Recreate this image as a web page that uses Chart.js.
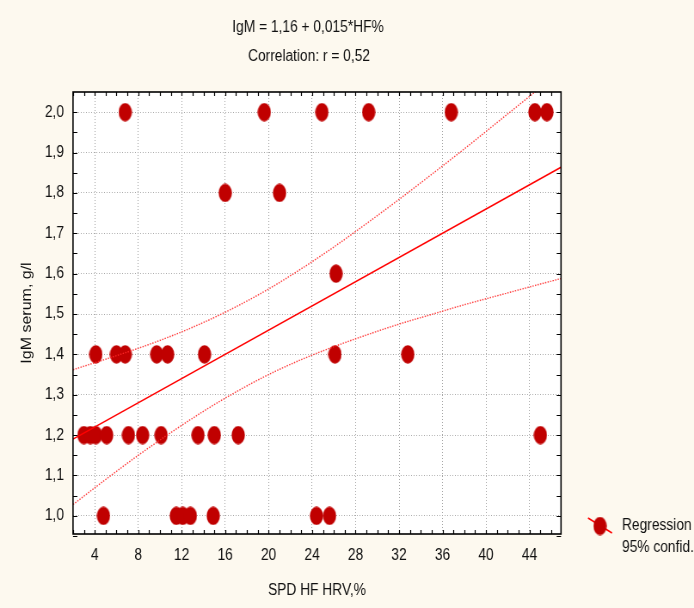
<!DOCTYPE html>
<html>
<head>
<meta charset="utf-8">
<script src="https://cdn.jsdelivr.net/npm/chart.js@4.4.1/dist/chart.umd.min.js"></script>
<style>
  html, body { margin: 0; padding: 0; background: #fdf9ef; overflow: hidden; }
  /* the whole figure is drawn wide and squeezed horizontally, as in the original export */
  #wrap { width: 807px; height: 608px; transform: scaleX(0.86); transform-origin: 0 0; }
</style>
</head>
<body>
<div id="wrap"><canvas id="igm" width="807" height="608"></canvas></div>
<script>
// scatter of serum IgM against HF share of the HRV spectrum
var hfPercent = [
    6.8, 19.6, 24.9, 29.2, 36.8, 44.5, 45.6,
    16.0, 21.0,
    26.2,
    4.1, 6.0, 6.8, 9.7, 10.7, 14.1, 26.1, 32.8,
    3.0, 3.6, 4.1, 5.1, 7.1, 8.4, 10.1, 13.5, 15.0, 17.2, 45.0,
    4.8, 11.5, 12.1, 12.8, 14.9, 24.4, 25.6
];
var igmSerum = [
    2.0, 2.0, 2.0, 2.0, 2.0, 2.0, 2.0,
    1.8, 1.8,
    1.6,
    1.4, 1.4, 1.4, 1.4, 1.4, 1.4, 1.4, 1.4,
    1.2, 1.2, 1.2, 1.2, 1.2, 1.2, 1.2, 1.2, 1.2, 1.2, 1.2,
    1.0, 1.0, 1.0, 1.0, 1.0, 1.0, 1.0
];

// fitted line IgM = a + b*HF%
var regIntercept = 1.16;
var regSlope = 0.015;
var correlation = 0.52;

// 95% confidence limits of the fit
var bandX = [2, 5, 8, 11, 14, 17, 20, 23, 26, 29, 32, 35, 38, 41, 44, 46.9];
var bandUpper = [1.362, 1.388, 1.415, 1.445, 1.479, 1.518, 1.562, 1.612, 1.666, 1.724, 1.784, 1.846, 1.909, 1.974, 2.039, 2.102];
var bandLower = [1.028, 1.090, 1.150, 1.206, 1.259, 1.307, 1.350, 1.387, 1.419, 1.448, 1.475, 1.499, 1.523, 1.545, 1.567, 1.588];

var xMin = 2, xMax = 46.9;
var yMin = 0.955, yMax = 2.05;
var xTickValues = [4, 8, 12, 16, 20, 24, 28, 32, 36, 40, 44];
var yTickValues = [1.0, 1.1, 1.2, 1.3, 1.4, 1.5, 1.6, 1.7, 1.8, 1.9, 2.0];
var yTickLabels = ['1,0', '1,1', '1,2', '1,3', '1,4', '1,5', '1,6', '1,7', '1,8', '1,9', '2,0'];

var SX = 0.86;          // horizontal squeeze applied to #wrap
var FONT = "'Liberation Sans', Arial, sans-serif";
var DOT = '#c00000';

// page x position -> canvas x position
function cx(x) { return x / SX; }

function commaNum(v, digits) {
    return v.toFixed(digits).replace('.', ',');
}

// oval marker used for the observations
function makeOval(w, h, color) {
    var c = document.createElement('canvas');
    c.width = w;
    c.height = h;
    var g = c.getContext('2d');
    g.fillStyle = color;
    g.beginPath();
    g.ellipse(w / 2, h / 2, w / 2 - 0.3, h / 2 - 0.3, 0, 0, Math.PI * 2);
    g.fill();
    return c;
}
var oval = makeOval(16, 19, DOT);

function pairs(xs, ys) {
    var out = [];
    for (var i = 0; i < xs.length; i++) out.push({ x: xs[i], y: ys[i] });
    return out;
}

var regLine = [
    { x: xMin, y: regIntercept + regSlope * xMin },
    { x: xMax, y: regIntercept + regSlope * xMax }
];

// background, frame, inner tick marks, headings and legend
var decor = {
    id: 'decor',
    beforeDraw: function (chart) {
        var ctx = chart.ctx, a = chart.chartArea;
        ctx.save();
        ctx.fillStyle = '#fdf9ef';
        ctx.fillRect(0, 0, chart.width, chart.height);
        ctx.fillStyle = '#ffffff';
        ctx.fillRect(a.left, a.top, a.right - a.left, a.bottom - a.top);
        ctx.restore();
    },
    afterDraw: function (chart) {
        var ctx = chart.ctx, a = chart.chartArea;
        var xs = chart.scales.x, ys = chart.scales.y;
        ctx.save();

        // minor ticks pointing into the plot
        ctx.strokeStyle = '#000';
        ctx.lineWidth = 1.2;
        ctx.beginPath();
        for (var v = Math.ceil(xMin); v <= xMax; v++) {
            var px = Math.round(xs.getPixelForValue(v)) + 0.5;
            ctx.moveTo(px, a.bottom); ctx.lineTo(px, a.bottom - 4);
            ctx.moveTo(px, a.top); ctx.lineTo(px, a.top + 4);
        }
        for (var k = 0; k <= 21; k++) {
            var yv = 1.0 + (k - 1) * 0.05;
            var py = Math.round(ys.getPixelForValue(yv)) + 0.5;
            ctx.moveTo(a.left, py); ctx.lineTo(a.left + 5, py);
            ctx.moveTo(a.right, py); ctx.lineTo(a.right - 5, py);
        }
        ctx.stroke();

        // frame
        ctx.lineWidth = 1.6;
        ctx.strokeRect(a.left, a.top, a.right - a.left, a.bottom - a.top);

        // heading
        ctx.fillStyle = '#111';
        ctx.font = '16px ' + FONT;
        ctx.textAlign = 'center';
        ctx.textBaseline = 'middle';
        ctx.fillText('IgM = ' + commaNum(regIntercept, 2) + ' + ' + commaNum(regSlope, 3) + '*HF%', cx(308), 28);
        ctx.fillText('Correlation: r = ' + commaNum(correlation, 2), cx(309), 57);

        // legend
        ctx.strokeStyle = '#ff0000';
        ctx.lineWidth = 1.5;
        ctx.beginPath();
        ctx.moveTo(cx(588), 518);
        ctx.lineTo(cx(612), 533);
        ctx.stroke();
        ctx.drawImage(oval, cx(600) - 8, 526 - 9.5);
        ctx.fillStyle = '#111';
        ctx.textAlign = 'left';
        ctx.fillText('Regression', cx(622), 526);
        ctx.fillText('95% confid.', cx(622), 548);
        ctx.restore();
    }
};

var bandStyle = {
    showLine: true,
    pointRadius: 0,
    borderColor: 'rgba(255, 40, 40, 0.9)',
    borderWidth: 1.4,
    borderDash: [1.5, 1.5],
    cubicInterpolationMode: 'monotone',
    fill: false,
    order: 0
};

new Chart(document.getElementById('igm'), {
    type: 'scatter',
    data: {
        datasets: [
            Object.assign({ label: '95% confid.', data: pairs(bandX, bandUpper) }, bandStyle),
            Object.assign({ label: '95% confid. low', data: pairs(bandX, bandLower) }, bandStyle),
            {
                label: 'Regression',
                data: regLine,
                showLine: true,
                pointRadius: 0,
                borderColor: '#ff0000',
                borderWidth: 1.6,
                order: 0
            },
            {
                label: 'IgM',
                data: pairs(hfPercent, igmSerum),
                pointStyle: oval,
                pointRadius: 8,
                pointHoverRadius: 8,
                backgroundColor: DOT,
                borderColor: DOT,
                order: 1
            }
        ]
    },
    options: {
        responsive: false,
        animation: false,
        events: [],
        layout: { padding: { top: 92, right: 807 - cx(561), bottom: 0, left: 0 } },
        scales: {
            x: {
                type: 'linear',
                min: xMin,
                max: xMax,
                afterBuildTicks: function (scale) {
                    scale.ticks = xTickValues.map(function (v) { return { value: v }; });
                },
                afterFit: function (scale) { scale.height = 74; },
                grid: { color: '#a8a8a8', lineWidth: 1, drawTicks: false },
                border: { display: false, dash: [1, 2] },
                ticks: {
                    padding: 12,
                    color: '#111',
                    font: { family: FONT, size: 16 },
                    maxRotation: 0,
                    callback: function (v) { return String(v); }
                },
                title: {
                    display: true,
                    text: 'SPD HF HRV,%',
                    color: '#111',
                    font: { family: FONT, size: 16 },
                    padding: { top: 0, bottom: 8 }
                }
            },
            y: {
                type: 'linear',
                min: yMin,
                max: yMax,
                afterBuildTicks: function (scale) {
                    scale.ticks = yTickValues.map(function (v) { return { value: v }; });
                },
                afterFit: function (scale) { scale.width = cx(73); },
                grid: { color: '#a8a8a8', lineWidth: 1, drawTicks: false },
                border: { display: false, dash: [1, 2] },
                ticks: {
                    padding: 10.5,
                    color: '#111',
                    font: { family: FONT, size: 16 },
                    callback: function (v, i) { return yTickLabels[i]; }
                },
                title: {
                    display: true,
                    text: 'IgM serum, g/l',
                    color: '#111',
                    font: { family: FONT, size: 16 },
                    padding: { top: 21.5, bottom: 0 }
                }
            }
        },
        plugins: {
            legend: { display: false },
            title: { display: false },
            tooltip: { enabled: false }
        }
    },
    plugins: [decor]
});
</script>
</body>
</html>
